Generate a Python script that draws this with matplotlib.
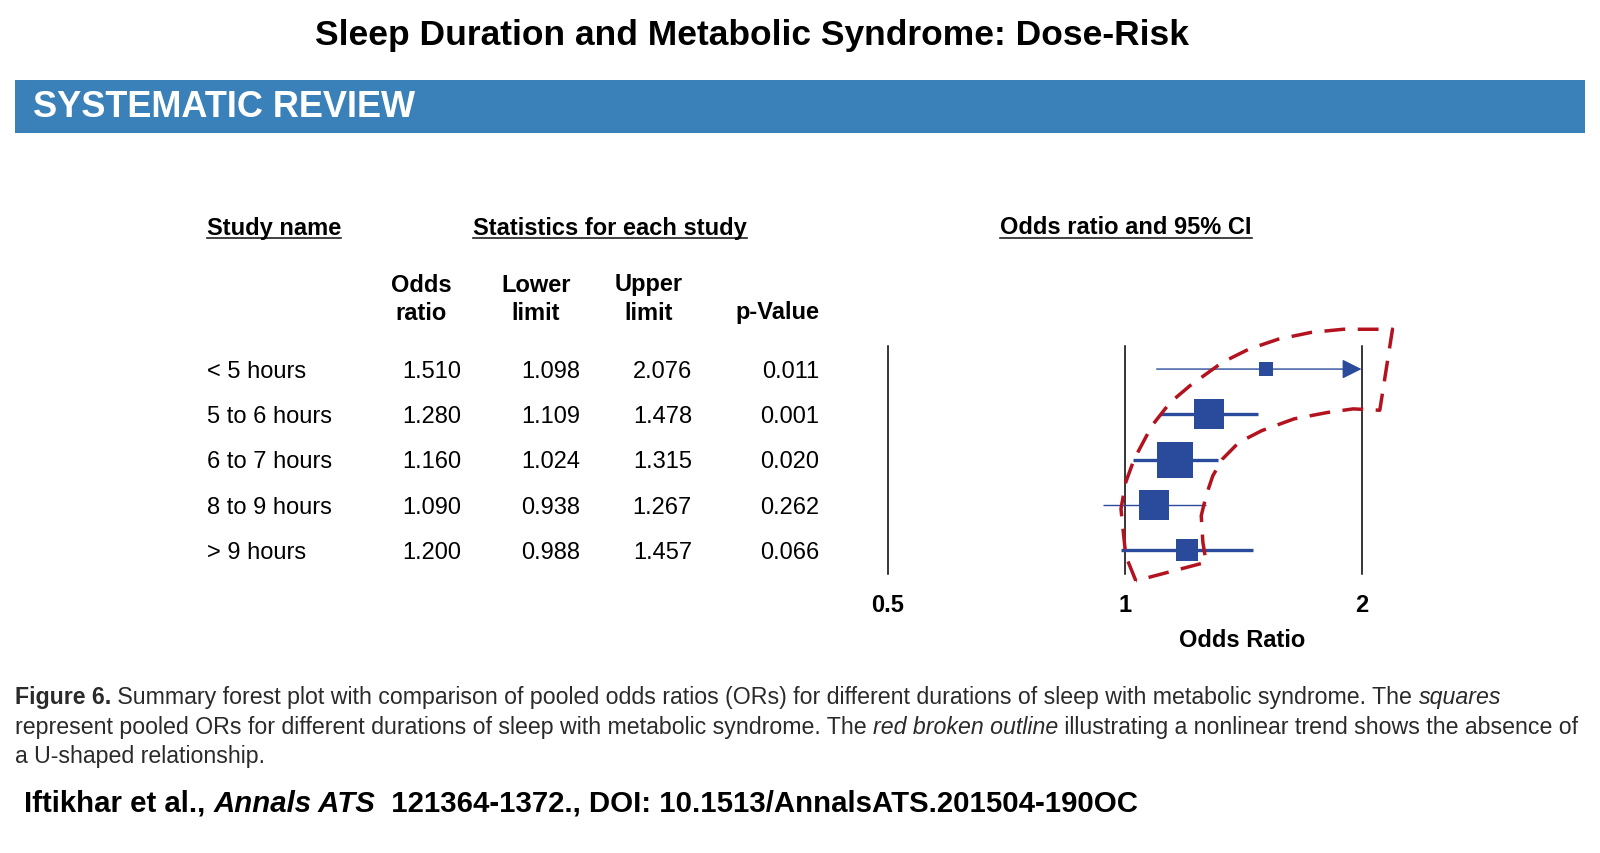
import numpy as np
import matplotlib.pyplot as plt
from matplotlib import transforms
from matplotlib.lines import Line2D
from matplotlib.patches import Rectangle

plt.rcParams['font.family'] = ['Liberation Sans', 'DejaVu Sans']

# Data
studies = ["< 5 hours", "5 to 6 hours", "6 to 7 hours", "8 to 9 hours", "> 9 hours"]
odds = [1.510, 1.280, 1.160, 1.090, 1.200]
lower = [1.098, 1.109, 1.024, 0.938, 0.988]
upper = [2.076, 1.478, 1.315, 1.267, 1.457]
pvals = [0.011, 0.001, 0.020, 0.262, 0.066]
weights = [5.5, 24.3, 32.9, 23.5, 13.8]   # relative weights (box area)
xticks = [0.5, 1, 2]
xtick_labels = ["0.5", "1", "2"]

# hand drawn red trend outline (odds ratio, row)
band_or = [1.033, 1.003, 0.989, 1.003, 1.028, 1.083, 1.142, 1.210, 1.331, 1.438,
           1.567, 1.725, 1.896, 2.19, 2.11, 1.952, 1.810, 1.642, 1.494, 1.397,
           1.331, 1.294, 1.269, 1.251, 1.257, 1.269, 1.033]
band_row = [4.68, 4.13, 3.09, 2.50, 1.99, 1.25, 0.74, 0.37, -0.15, -0.44,
            -0.66, -0.81, -0.88, -0.88, 0.91, 0.88, 0.96, 1.10, 1.36, 1.62,
            1.99, 2.36, 2.80, 3.24, 3.83, 4.27, 4.68]

W, H = 1600, 854
BLUE = '#2a4b9b'
RED = '#b3121f'
FS = 17

fig = plt.figure(figsize=(16, 8.54), dpi=100)
renderer = fig.canvas.get_renderer()


def fx(px):
    return px / W


def fy(py):
    return 1 - py / H


def underline(t, ypx):
    bb = t.get_window_extent(renderer)
    fig.add_artist(Line2D([bb.x0 / W, bb.x1 / W], [fy(ypx), fy(ypx)],
                          color='#222222', lw=1.2))


def run_width(txt, size, weight, style):
    t1 = fig.text(0, 0, '|' + txt + '|', fontsize=size, weight=weight, style=style)
    t2 = fig.text(0, 0, '||', fontsize=size, weight=weight, style=style)
    w = t1.get_window_extent(renderer).width - t2.get_window_extent(renderer).width
    t1.remove()
    t2.remove()
    return w


def draw_runs(x, y, runs, size, color='black'):
    for txt, weight, style in runs:
        fig.text(fx(x), fy(y), txt, fontsize=size, weight=weight, style=style,
                 va='baseline', color=color)
        x += run_width(txt, size, weight, style)


# title + banner
fig.text(fx(752), fy(36), "Sleep Duration and Metabolic Syndrome: Dose-Risk",
         ha='center', va='center', fontsize=25.5, weight='bold')
fig.add_artist(Rectangle((fx(15), fy(134)), fx(1585) - fx(15), 53 / H,
                         transform=fig.transFigure, color='#3a80b9', lw=0))
fig.text(fx(33), fy(107.5), "SYSTEMATIC REVIEW", color='white', weight='bold',
         fontsize=26, va='center')

# forest plot axes
ax = fig.add_axes([fx(888), fy(575), (1361.5 - 888) / W, (575 - 347) / H])
ax.set_xscale('log')
ax.set_xlim(0.5, 2)
ax.set_ylim(4.53, -0.51)
ax.patch.set_alpha(0)
for s in ax.spines.values():
    s.set_visible(False)
ax.set_yticks([])
ax.set_xticks(xticks)
ax.xaxis.set_minor_locator(plt.NullLocator())
ax.set_xticklabels(xtick_labels, fontsize=FS, weight='bold')
ax.tick_params(axis='x', length=0, pad=14)
ax.set_xlabel("Odds Ratio", fontsize=FS, weight='bold')
ax.xaxis.set_label_coords(0.748, -0.235)

for t in xticks:
    ax.axvline(t, color='black', lw=1.1, clip_on=False)

rows = np.arange(len(studies))
ci_lw = [1.0, 2.4, 2.4, 1.0, 2.4]
wmax = max(weights)
for i in rows:
    xmax = ax.get_xlim()[1]
    if upper[i] > xmax:
        ax.annotate('', xy=(xmax, i), xytext=(lower[i], i),
                    arrowprops=dict(arrowstyle='-|>,head_length=0.6,head_width=0.3',
                                    mutation_scale=20, lw=ci_lw[i], color=BLUE,
                                    shrinkA=0, shrinkB=0))
    else:
        ax.plot([lower[i], upper[i]], [i, i], color=BLUE, lw=ci_lw[i],
                solid_capstyle='butt')
    side = 35.5 * np.sqrt(weights[i] / wmax) * 0.72
    ax.plot(odds[i], i, marker='s', ms=side, color=BLUE, mec=BLUE, mew=0, zorder=3)

ax.plot(band_or, band_row, color=RED, lw=2.5, ls=(0, (6, 3.6)),
        clip_on=False, zorder=4)

# table
trans = transforms.blended_transform_factory(fig.transFigure, ax.transData)
t = fig.text(fx(207), fy(228), "Study name", fontsize=FS, weight='bold', va='center')
underline(t, 239)
t = fig.text(fx(610), fy(228), "Statistics for each study", fontsize=FS,
             weight='bold', va='center', ha='center')
underline(t, 239)
t = fig.text(fx(1126), fy(228), "Odds ratio and 95% CI", fontsize=FS,
             weight='bold', va='center', ha='center')
underline(t, 239)

head_top = ["Odds", "Lower", "Upper", ""]
head_bot = ["ratio", "limit", "limit", "p-Value"]
head_x = [421, 536, 649, 777]
for a, b, x in zip(head_top, head_bot, head_x):
    fig.text(fx(x), fy(285), a, fontsize=FS, weight='bold', ha='center', va='center')
    fig.text(fx(x), fy(313), b, fontsize=FS, weight='bold', ha='center', va='center')

col_right = [461, 580, 692, 819]
for i in rows:
    fig.text(fx(207), i + 0.04, studies[i], transform=trans, va='center', fontsize=FS)
    vals = [odds[i], lower[i], upper[i], pvals[i]]
    for v, xr in zip(vals, col_right):
        fig.text(fx(xr), i + 0.04, f"{v:.3f}", transform=trans, va='center', ha='right',
                 fontsize=FS)

# caption
CAP = 16.7
draw_runs(15, 704, [("Figure 6.", 'bold', 'normal'),
                    (" Summary forest plot with comparison of pooled odds ratios (ORs) for "
                     "different durations of sleep with metabolic syndrome. The ", 'normal', 'normal'),
                    ("squares", 'normal', 'italic')], CAP, color='#2a2a2a')
draw_runs(15, 734, [("represent pooled ORs for different durations of sleep with metabolic "
                     "syndrome. The ", 'normal', 'normal'),
                    ("red broken outline", 'normal', 'italic'),
                    (" illustrating a nonlinear trend shows the absence of", 'normal', 'normal')],
          CAP, color='#2a2a2a')
draw_runs(15, 763, [("a U-shaped relationship.", 'normal', 'normal')], CAP, color='#2a2a2a')

draw_runs(24, 812, [("Iftikhar et al., ", 'bold', 'normal'),
                    ("Annals ATS", 'bold', 'italic'),
                    ("  121364-1372., DOI: 10.1513/AnnalsATS.201504-190OC", 'bold', 'normal')],
          21.2)

fig.savefig("out.png", dpi=100)
